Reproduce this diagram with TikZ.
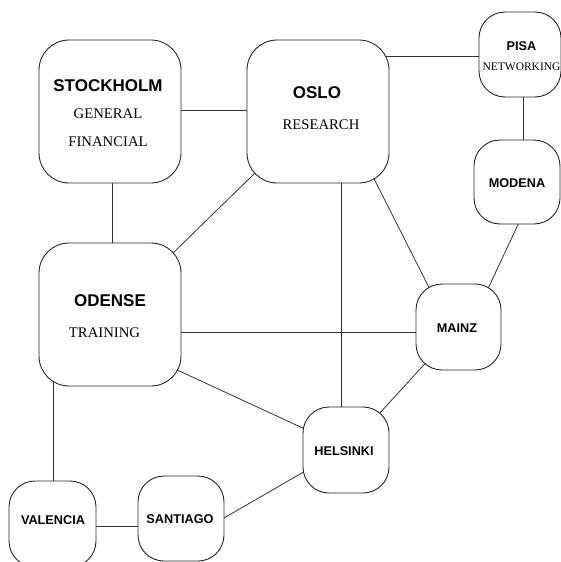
\documentclass[tikz,border=0pt]{standalone}
\usepackage{fontspec}
\setmainfont{Liberation Serif}
\newfontfamily\arialf{Liberation Sans}
\usetikzlibrary{backgrounds,calc}
\begin{document}
\begin{tikzpicture}[x=1pt,y=-1pt,
  box/.style={draw=black!85, line width=0.9pt, fill=white, rounded corners=#1, inner sep=0pt},
  bigbox/.style={box=30pt, minimum width=142pt, minimum height=143pt},
  smallbox/.style={box=26pt, minimum width=86pt, minimum height=86pt},
  link/.style={draw=black!80, line width=0.8pt},
  ttl/.style={inner sep=0pt, font=\arialf\bfseries\fontsize{17}{20}\selectfont},
  sub/.style={inner sep=0pt, font=\fontsize{14.7}{17}\selectfont},
  stl/.style={inner sep=0pt, font=\arialf\bfseries\fontsize{12.7}{15}\selectfont},
  tiny/.style={inner sep=0pt, font=\fontsize{11.5}{13.5}\selectfont},
]
\useasboundingbox (0,0) rectangle (561,562);
\clip (0,0) rectangle (561,562);

% boxes
\node[bigbox] (stockholm) at (110,111.5) {};
\node[bigbox] (oslo) at (318,111.5) {};
\node[bigbox] (odense) at (110,314.5) {};
\node[smallbox, minimum width=82pt, minimum height=85pt] (pisa) at (520,54.5) {};
\node[smallbox, minimum height=84pt] (modena) at (517,182) {};
\node[smallbox, minimum width=85pt] (mainz) at (458.5,327) {};
\node[smallbox] (helsinki) at (346,450) {};
\node[smallbox, minimum width=87pt] (valencia) at (52.5,524) {};
\node[smallbox, minimum height=85pt] (santiago) at (181,518.5) {};

% texts
\node[ttl] (stockholmT) at (108,86) {STOCKHOLM};
\node[sub] (stockholmG) at (108,114) {GENERAL};
\node[sub] (stockholmF) at (108,142) {FINANCIAL};
\node[ttl] (osloT) at (317,93) {OSLO};
\node[sub] (osloR) at (321,125) {RESEARCH};
\node[ttl] (odenseT) at (110,301) {ODENSE};
\node[sub] (odenseR) at (104.5,333) {TRAINING};
\node[stl] (pisaT) at (521.5,46) {PISA};
\node[tiny] (pisaN) at (521.5,67) {NETWORKING};
\node[stl] (modenaT) at (517,183) {MODENA};
\node[stl] (mainzT) at (457,328) {MAINZ};
\node[stl] (helsinkiT) at (344,451) {HELSINKI};
\node[stl] (valenciaT) at (53,520) {VALENCIA};
\node[stl] (santiagoT) at (180,519) {SANTIAGO};

% connectors
\begin{pgfonlayer}{background}
\draw[link] ($(stockholm)+(0,-1.5)$) -- ($(oslo)+(0,-1.5)$);
\draw[link] ($(stockholm)+(2,0)$) -- ($(odense)+(2,0)$);
\draw[link] (oslo.center) -- (odense.center);
\draw[link] ($(oslo)+(0,-55.5)$) -- ($(pisa)+(0,1.5)$);
\draw[link] ($(pisa)+(3,0)$) -- ($(modena)+(6,0)$);
\draw[link] ($(oslo)+(23,0)$) -- ($(helsinki)+(-5,0)$);
\draw[link] ($(oslo)+(22,0)$) -- ($(mainz)+(-9.5,0)$);
\draw[link] ($(modena)+(21,0)$) -- ($(mainz)+(11.5,0)$);
\draw[link] ($(odense)+(0,17.5)$) -- ($(mainz)+(0,5)$);
\draw[link] ($(odense)+(0,24.5)$) -- ($(helsinki)+(0,-2)$);
\draw[link] (mainz.center) -- (helsinki.center);
\draw[link] ($(odense)+(-57,0)$) -- ($(valencia)+(0.5,0)$);
\draw[link] ($(valencia)+(0,2)$) -- ($(santiago)+(0,7.5)$);
\draw[link] ($(santiago)+(23,11)$) -- ($(helsinki)+(0,-2.5)$);
\end{pgfonlayer}
\end{tikzpicture}
\end{document}
